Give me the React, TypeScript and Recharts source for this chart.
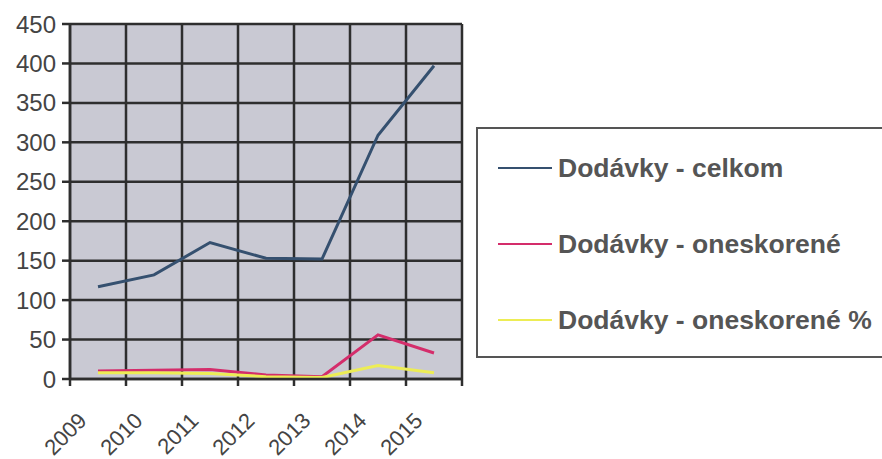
import React from "react"
import { CartesianGrid, Line, LineChart, XAxis, YAxis } from "recharts"

const years = ["2009", "2010", "2011", "2012", "2013", "2014", "2015"]
const celkom = [117, 132, 173, 153, 152, 309, 397]
const oneskorene = [10, 11, 12, 5, 3, 56, 33]
const oneskorenePct = [8, 8, 7, 3, 2, 17, 8]
const yTicks = [0, 50, 100, 150, 200, 250, 300, 350, 400, 450]

const series = [
  { key: "celkom", name: "Dodávky - celkom", color: "#35506f" },
  { key: "oneskorene", name: "Dodávky - oneskorené", color: "#d42d6b" },
  { key: "oneskorenePct", name: "Dodávky - oneskorené %", color: "#eded55" },
]

// each year sits in the middle of its slot, the grid lines fall between years
const data = years.map((year, i) => ({
  year,
  slot: i + 0.5,
  celkom: celkom[i],
  oneskorene: oneskorene[i],
  oneskorenePct: oneskorenePct[i],
}))

const font = '"Liberation Sans", Arial, sans-serif'

const YearTick = (props: any) => {
  const { x, y, payload } = props
  const label = years[payload.value]
  if (!label) return null
  const px = x + 18
  const py = y + 34
  return (
    <text
      x={px}
      y={py}
      textAnchor="end"
      fontSize={22}
      fontFamily={font}
      fill="#444"
      transform={`rotate(-45, ${px}, ${py})`}
    >
      {label}
    </text>
  )
}

const LegendBox = () => (
  <div
    style={{
      position: "absolute",
      left: 476,
      top: 127,
      boxSizing: "border-box",
      width: 420,
      height: 231,
      border: "2px solid #555",
      background: "#fff",
      paddingTop: 1,
    }}
  >
    {series.map((s) => (
      <div
        key={s.key}
        style={{
          display: "flex",
          alignItems: "center",
          height: 76,
          paddingLeft: 20,
        }}
      >
        <div style={{ width: 54, height: 2, background: s.color, marginRight: 6 }} />
        <span
          style={{
            fontFamily: font,
            fontWeight: "bold",
            fontSize: 26.5,
            color: "#555",
            whiteSpace: "nowrap",
          }}
        >
          {s.name}
        </span>
      </div>
    ))}
  </div>
)

export default function App() {
  return (
    <div
      style={{
        position: "absolute",
        left: 0,
        top: 0,
        width: 882,
        height: 459,
        overflow: "hidden",
        background: "#fff",
      }}
    >
      <LineChart
        width={882}
        height={459}
        data={data}
        margin={{ top: 24, right: 420, bottom: 0, left: 0 }}
      >
        <CartesianGrid stroke="#2e2e2e" strokeWidth={2.5} fill="#c9c9d3" fillOpacity={1} />
        <XAxis
          type="number"
          dataKey="slot"
          domain={[0, 7]}
          ticks={[0, 1, 2, 3, 4, 5, 6, 7]}
          interval={0}
          height={80}
          stroke="#2e2e2e"
          strokeWidth={2.5}
          tickSize={7}
          tick={<YearTick />}
        />
        <YAxis
          domain={[0, 450]}
          ticks={yTicks}
          interval={0}
          width={70}
          stroke="#2e2e2e"
          strokeWidth={2.5}
          tickSize={8}
          tickMargin={6}
          tick={{ fontSize: 24, fill: "#444", fontFamily: font }}
        />
        {series.map((s) => (
          <Line
            key={s.key}
            dataKey={s.key}
            name={s.name}
            stroke={s.color}
            strokeWidth={3}
            dot={false}
            isAnimationActive={false}
          />
        ))}
      </LineChart>
      <LegendBox />
    </div>
  )
}
